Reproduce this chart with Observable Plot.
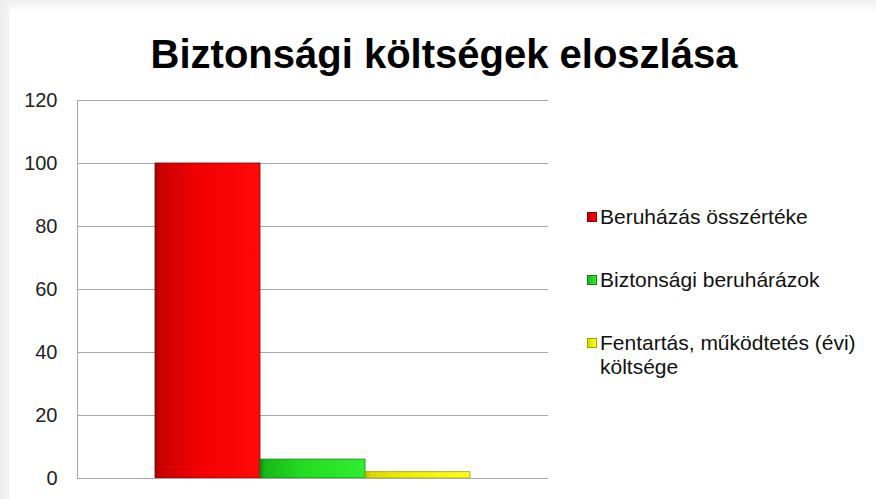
<!DOCTYPE html>
<html>
<head>
<meta charset="utf-8">
<script src="https://cdn.jsdelivr.net/npm/d3@7"></script>
<script src="https://cdn.jsdelivr.net/npm/@observablehq/plot@0.6"></script>
<style>
  html, body { margin: 0; padding: 0; background: #fff; }
  #wrap { position: relative; width: 876px; height: 499px; overflow: hidden; font-family: "Liberation Sans", Arial, sans-serif;
          background: linear-gradient(to right, #eeeeee 0px, #f4f4f4 9px, #ffffff 10px); }
  #topshade { position: absolute; left: 0; top: 0; width: 876px; height: 12px; background: linear-gradient(to bottom, #f0f0f0, rgba(255,255,255,0)); }
  #title { position: relative; height: 90px; box-sizing: border-box; padding-top: 31px; padding-left: 12px; text-align: center;
           font-size: 40px; font-weight: bold; color: #000; line-height: 46px; white-space: nowrap; }
  #legend { position: absolute; left: 587px; top: 0; font-size: 21px; color: #111; }
  .item { position: absolute; left: 0; white-space: nowrap; line-height: 24px; }
  .sw { position: absolute; left: 0; top: 7px; width: 10px; height: 10px; box-sizing: border-box; }
  .lab { position: absolute; left: 13px; top: 0; }
  svg { display: block; }
</style>
</head>
<body>
<div id="wrap">
  <div id="topshade"></div>
  <div id="title"></div>
  <div id="chart"></div>
  <div id="legend"></div>
</div>
<script>
const title = "Biztonsági költségek eloszlása";
const series = ["Beruházás összértéke", "Biztonsági beruhárázok", "Fentartás, működtetés (évi) költsége"];
const values = [100, 6, 2];
const yTicks = [0, 20, 40, 60, 80, 100, 120];
const gradStops = [["#a00000", "#c80000", "#f20000", "#ff0808"], ["#109010", "#18b818", "#22dc22", "#30ee30"], ["#b8b800", "#d8d800", "#eeee00", "#ffff20"]];
const strokes = ["#8a0000", "#108010", "#a0a000"];

const data = series.map((s, i) => ({series: s, value: values[i], idx: i}));

document.getElementById("title").textContent = title;

const plot = Plot.plot({
  width: 876,
  height: 409,
  marginLeft: 77,
  marginRight: 328,
  marginTop: 10,
  marginBottom: 21,
  style: {fontFamily: "Liberation Sans, Arial, sans-serif", background: "transparent"},
  x: {domain: series, paddingInner: 0, paddingOuter: 0.74, axis: null},
  y: {domain: [0, 120], ticks: yTicks, axis: null, label: null},
  marks: [
    Plot.ruleY(yTicks, {stroke: "#a8a8a8", strokeWidth: 1}),
    Plot.barY(data, {x: "series", y: "value", fill: d => `url(#g${d.idx})`, stroke: d => strokes[d.idx], strokeWidth: 0.8}),
    Plot.frame({anchor: "left", stroke: "#a8a8a8"}),
    Plot.ruleY([0], {stroke: "#a8a8a8"}),
    Plot.axisY(yTicks, {tickSize: 0, tickPadding: 20, fontSize: 20, fill: "#222", label: null, tickFormat: d => String(d)})
  ]
});

// gradient defs
const ns = "http://www.w3.org/2000/svg";
const defs = document.createElementNS(ns, "defs");
gradStops.forEach((st, i) => {
  const g = document.createElementNS(ns, "linearGradient");
  g.setAttribute("id", "g" + i);
  g.setAttribute("x1", "0"); g.setAttribute("x2", "1"); g.setAttribute("y1", "0"); g.setAttribute("y2", "0");
  [[0, st[0]], [0.05, st[1]], [0.4, st[2]], [1, st[3]]].forEach(([o, c]) => {
    const s = document.createElementNS(ns, "stop");
    s.setAttribute("offset", o); s.setAttribute("stop-color", c);
    g.appendChild(s);
  });
  defs.appendChild(g);
});
plot.insertBefore(defs, plot.firstChild);
document.getElementById("chart").appendChild(plot);

// legend
const legend = document.getElementById("legend");
const rowTops = [205, 268, 331];
series.forEach((s, i) => {
  const item = document.createElement("div");
  item.className = "item";
  item.style.top = rowTops[i] + "px";
  const sw = document.createElement("div");
  sw.className = "sw";
  sw.style.background = `linear-gradient(to right, ${gradStops[i][1]}, ${gradStops[i][3]})`;
  sw.style.border = `1px solid ${strokes[i]}`;
  const lab = document.createElement("div");
  lab.className = "lab";
  const words = s.split(" ");
  if (s.length > 30) {
    lab.append(words.slice(0, -1).join(" "));
    lab.append(document.createElement("br"));
    lab.append(words[words.length - 1]);
  } else {
    lab.textContent = s;
  }
  item.appendChild(sw);
  item.appendChild(lab);
  legend.appendChild(item);
});
</script>
</body>
</html>
